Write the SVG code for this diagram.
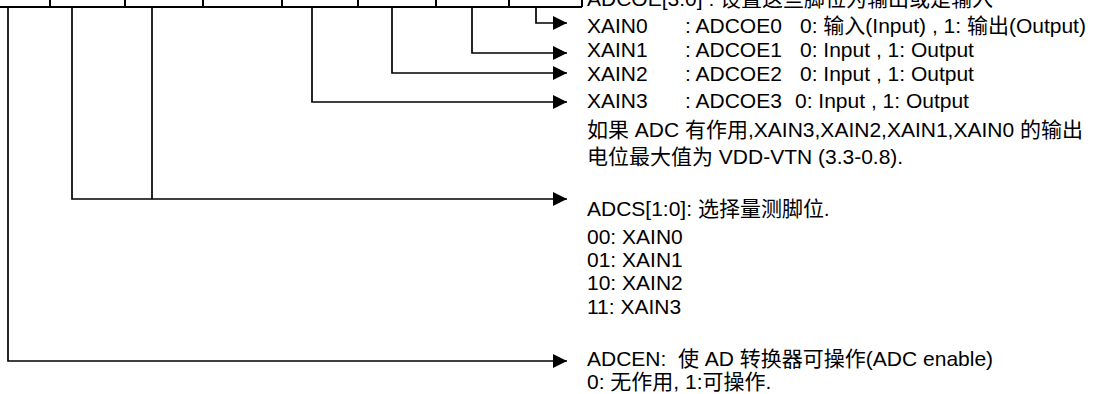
<svg xmlns="http://www.w3.org/2000/svg" width="1096" height="394" viewBox="0 0 1096 394">
<style>
text{font-family:"Liberation Sans","Noto Sans CJK SC",sans-serif;font-size:21px;fill:#000}
.reg{stroke:#000;stroke-width:2;fill:none}
.c{stroke:#000;stroke-width:1.7;fill:none}
</style>
<defs>
<marker id="ah" markerUnits="userSpaceOnUse" markerWidth="15" markerHeight="15" refX="14" refY="7" orient="auto" viewBox="0 0 15 15">
<path d="M0,0 L14,7 L0,14 z" fill="#000"/>
</marker>
</defs>
<rect width="1096" height="394" fill="#fff"/>
<g id="register">
<path class="reg" d="M0,7 H582 M50,0 V7 M125,0 V7 M203,0 V7 M282,0 V7 M358,0 V7 M436,0 V7 M509,0 V7 M582,0 V7"/>
</g>
<g id="connectors">
<path class="c" d="M536,7 V23 H567" marker-end="url(#ah)"/>
<path class="c" d="M472,7 V53 H567" marker-end="url(#ah)"/>
<path class="c" d="M392,7 V73 H567" marker-end="url(#ah)"/>
<path class="c" d="M312,7 V102 H567" marker-end="url(#ah)"/>
<path class="c" d="M152,7 V199"/>
<path class="c" d="M72,7 V199 H567" marker-end="url(#ah)"/>
<path class="c" d="M8,7 V361 H567" marker-end="url(#ah)"/>
</g>
<g id="adcoe">
<text x="587" y="6">ADCOE[3:0] : 设置这些脚位为输出或是输入</text>
<text x="587" y="33">XAIN0</text><text x="685" y="33">: ADCOE0</text><text x="800" y="33">0: 输入(Input) , 1: 输出(Output)</text>
<text x="587" y="57">XAIN1</text><text x="685" y="57">: ADCOE1</text><text x="800" y="57">0: Input , 1: Output</text>
<text x="587" y="81">XAIN2</text><text x="685" y="81">: ADCOE2</text><text x="800" y="81">0: Input , 1: Output</text>
<text x="587" y="108">XAIN3</text><text x="685" y="108">: ADCOE3</text><text x="795" y="108">0: Input , 1: Output</text>
<text x="587" y="137">如果 ADC 有作用,XAIN3,XAIN2,XAIN1,XAIN0 的输出</text>
<text x="587" y="164">电位最大值为 VDD-VTN (3.3-0.8).</text>
</g>
<g id="adcs">
<text x="587" y="216">ADCS[1:0]: 选择量测脚位.</text>
<text x="587" y="244">00: XAIN0</text>
<text x="587" y="267">01: XAIN1</text>
<text x="587" y="290">10: XAIN2</text>
<text x="587" y="314">11: XAIN3</text>
</g>
<g id="adcen">
<text x="587" y="366" xml:space="preserve">ADCEN:  使 AD 转换器可操作(ADC enable)</text>
<text x="587" y="389">0: 无作用, 1:可操作.</text>
</g>
</svg>
